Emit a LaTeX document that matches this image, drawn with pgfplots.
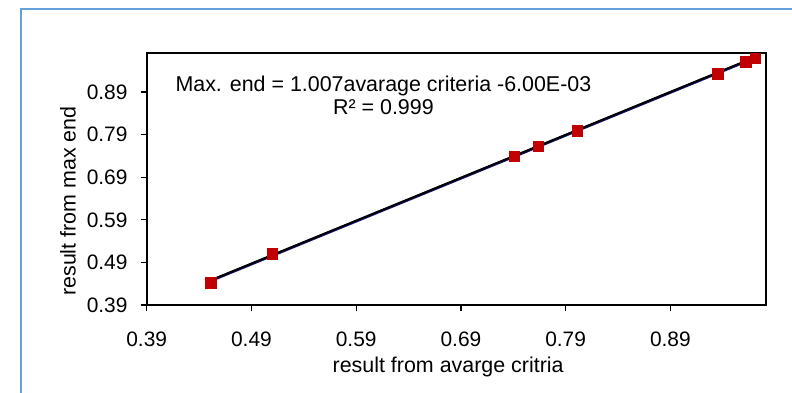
\documentclass[border=0pt]{standalone}
\usepackage{fontspec}
\setmainfont{Liberation Sans}
\usepackage{pgfplots}
\pgfplotsset{compat=1.18}
\definecolor{frameblue}{RGB}{100,160,218}
\definecolor{markred}{RGB}{192,0,0}
\definecolor{navyline}{RGB}{20,20,120}
\begin{document}
\begin{tikzpicture}[font=\fontsize{21.5}{24}\selectfont]
\begin{axis}[
  name=ax,
  scale only axis,
  width=619bp, height=251.7bp,
  xmin=0.39, xmax=0.981, ymin=0.39, ymax=0.981,
  xtick={0.39,0.49,0.59,0.69,0.79,0.89},
  ytick={0.39,0.49,0.59,0.69,0.79,0.89},
  tick align=outside,
  major tick length=6bp,
  tick style={black, line width=1.2bp},
  axis line style={line width=2bp, black},
  xtick pos=bottom, ytick pos=left,
  /pgf/number format/assume math mode=true,
  /pgf/number format/.cd, fixed, fixed zerofill, precision=2, /pgfplots/.cd,
  tick label style={font=\fontsize{21}{24}\selectfont},
  xticklabel style={inner sep=0pt, anchor=north, yshift=-26.7bp+6bp},
  yticklabel style={inner sep=0pt, anchor=east, xshift=-19bp+6bp},
  clip=false,
]
\addplot[only marks, mark=square*, mark size=5.2bp, mark options={fill=markred, draw=markred}]
  coordinates {(0.451,0.442) (0.510,0.510) (0.741,0.740) (0.764,0.763) (0.801,0.799) (0.935,0.933) (0.962,0.961) (0.971,0.969)};
\addplot[navyline, line width=2.6bp, no marks, yshift=-0.6bp]
  coordinates {(0.451,0.448) (0.971,0.972)};
\addplot[black, line width=2bp, no marks]
  coordinates {(0.451,0.448) (0.971,0.972)};
\node[anchor=base, inner sep=0pt] at (axis cs:0.616,0.892) {Max. end = 1.007avarage criteria -6.00E-03};
\node[anchor=base, inner sep=0pt] at (axis cs:0.616,0.838) {R² = 0.999};
\node[anchor=base, inner sep=0pt] at (axis cs:0.6778,0.2304) {result from avarge critria};
\node[rotate=90, anchor=center, inner sep=0pt] at (axis cs:0.3148,0.634) {result from max end};
\end{axis}
\path[use as bounding box] ([xshift=-146.7bp,yshift=-88bp]ax.south west) rectangle ([xshift=26.3bp,yshift=53.3bp]ax.north east);
\draw[frameblue, line width=2.4bp] ([xshift=-125.7bp,yshift=-95bp]ax.south west) -- ([xshift=-125.7bp,yshift=44.3bp]ax.north west) -- ([xshift=40bp,yshift=44.3bp]ax.north east);
\end{tikzpicture}
\end{document}
